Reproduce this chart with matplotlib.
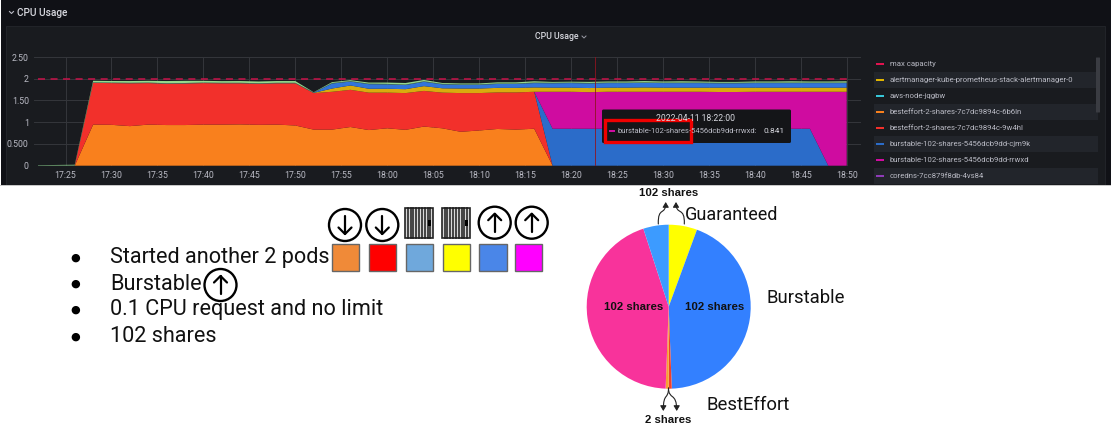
import matplotlib
matplotlib.use("Agg")
import matplotlib.pyplot as plt
import matplotlib.patches as mp
from matplotlib.path import Path

# ---- data ----
minutes = [22, 24, 26, 28, 30, 32, 34, 36, 38, 40, 42, 44, 46, 48, 50,
           52, 54, 56, 58, 60, 62, 64, 66, 68, 70, 72, 74, 76,
           78, 80, 82, 84, 86, 88, 90, 92, 94, 96, 98, 100, 102, 104, 106, 108, 110]
orange = [0, 0, 0, .945, .94, .91, .945, .935, .935, .945, .945, .95, .94, .945, .925,
          .83, .83, .89, .82, .86, .825, .90, .86, .78, .81, .845, .83, .85,
          0, 0, 0, 0, 0, 0, 0, 0, 0, 0, 0, 0, 0, 0, 0, 0, 0]
red = [0, 0, 0, .96, .96, .985, .955, .95, .955, .955, .95, .945, .945, .95, .97,
       .84, .87, .855, .86, .82, .845, .82, .82, .89, .86, .84, .855, .85,
       0, 0, 0, 0, 0, 0, 0, 0, 0, 0, 0, 0, 0, 0, 0, 0, 0]
burst_a = [0, 0, 0, 0, 0, 0, 0, 0, 0, 0, 0, 0, 0, 0, 0,
           0, 0, 0, 0, 0, 0, 0, 0, 0, 0, 0, 0, 0,
           .85, .85, .85, .85, .85, .85, .85, .85, .85, .85, .85, .85, .85, .85, .85, 0, 0]
burst_b = [0, 0, 0, 0, 0, 0, 0, 0, 0, 0, 0, 0, 0, 0, 0,
           0, 0, 0, 0, 0, 0, 0, 0, 0, 0, 0, 0, 0,
           .85, .85, .841, .85, .85, .85, .85, .85, .85, .845, .845, .85, .85, .85, .85, 1.70, 1.70]
alert = [0, 0, 0, 0, 0, 0, 0, 0, 0, 0, 0, 0, 0, 0, 0,
         .005, .075, .10, .09, .09, .09, .11, .10, .105, .105, .105, .105, .10,
         .095, .095, .095, .095, .095, .10, .095, .095, .095, .10, .10, .095, .095, .095, .095, .095, .095]
other = [0, 0, 0, 0, 0, 0, 0, 0, 0, 0, 0, 0, 0, 0, 0,
         .005, .115, .09, .105, .10, .095, .10, .09, .085, .085, .09, .09, .10,
         .10, .105, .105, .105, .105, .105, .105, .105, .105, .10, .10, .105, .105, .105, .105, .105, .105]
aws = [.004, .005, .006, .012, .012, .012, .012, .012, .012, .012, .012, .012, .012, .012, .012,
       .005, .012, .012, .012, .012, .012, .012, .012, .012, .012, .012, .012, .012,
       .012, .012, .012, .012, .012, .012, .012, .012, .012, .012, .012, .012, .012, .012, .012, .012, .012]
green = [.008, .012, .016, .036, .036, .04, .04, .05, .05, .04, .038, .04, .04, .04, .04,
         .005, .02, .02, .025, .03, .035, .03, .02, .02, .02, .025, .025, .03,
         .02, .02, .025, .025, .025, .03, .025, .03, .025, .02, .02, .025, .025, .03, .025, .025, .03]
max_capacity = [2] * len(minutes)

y_ticks = [0, .5, 1, 1.5, 2, 2.5]
y_labels = ["0", "0.500", "1", "1.50", "2", "2.50"]
x_ticks = [25, 30, 35, 40, 45, 50, 55, 60, 65, 70, 75, 80, 85, 90, 95, 100, 105, 110]
x_labels = ["17:25", "17:30", "17:35", "17:40", "17:45", "17:50", "17:55", "18:00", "18:05",
            "18:10", "18:15", "18:20", "18:25", "18:30", "18:35", "18:40", "18:45", "18:50"]
legend_names = ["max capacity", "alertmanager-kube-prometheus-stack-alertmanager-0", "aws-node-jqgbw",
                "besteffort-2-shares-7c7dc9894c-6b6ln", "besteffort-2-shares-7c7dc9894c-9w4hl",
                "burstable-102-shares-5456dcb9dd-cjm9k", "burstable-102-shares-5456dcb9dd-rrwxd",
                "coredns-7cc879f8db-4vs84"]
legend_colors = ["#e0134f", "#e0b400", "#37c6d8", "#f9801d", "#f2302b", "#2b6cc9", "#cf0ca0", "#8f3bb8"]
bullets = ["Started another 2 pods", "Burstable", "0.1 CPU request and no limit", "102 shares"]
swatches = ["#f08a38", "#ff0000", "#6fa8dc", "#ffff00", "#4a86e8", "#ff00ff"]
pie_values = [5.6, 43.8, 0.6, 0.6, 44.4, 5.0]
pie_colors = ["#ffff00", "#3380ff", "#f2402b", "#f7a030", "#f8339b", "#3c9bff"]

# ---- figure ----
W, H = 1111, 430
fig = plt.figure(figsize=(W / 100, H / 100), dpi=100, facecolor="white")
plt.rcParams["font.family"] = ["Roboto", "DejaVu Sans"]

def axes_px(x0, y0, x1, y1, **kw):
    return fig.add_axes([x0 / W, 1 - y1 / H, (x1 - x0) / W, (y1 - y0) / H], **kw)

bg = axes_px(0, 0, W, H, zorder=0)
bg.set_xlim(0, W); bg.set_ylim(H, 0); bg.axis("off")
top = axes_px(0, 0, W, H, zorder=3)
top.set_xlim(0, W); top.set_ylim(H, 0); top.axis("off"); top.patch.set_alpha(0)

TXT = "#b9bac4"
bg.add_patch(mp.Rectangle((1, 0), W, 185, fc="#101116", ec="none"))
bg.add_patch(mp.Rectangle((6, 26), W - 12, 159, fc="#191b1f", ec="#24262b", lw=.6))
bg.add_patch(mp.Rectangle((0, 185), W, 1.2, fc="#c8c8c8", ec="none"))
bg.plot([9.5, 11.5, 13.5], [11.5, 13.5, 11.5], color=TXT, lw=.8)
bg.text(17, 12.5, "CPU Usage", color="#d8d9e0", fontsize=7.3, fontweight="medium", va="center")
bg.text(556.5, 36.5, "CPU Usage", color="#d8d9e0", fontsize=6.3, fontweight="medium", va="center", ha="center")
bg.plot([582, 584, 586], [36, 38, 36], color="#9a9ba5", lw=.7)

# legend rows
for i, (name, col) in enumerate(zip(legend_names, legend_colors)):
    y = 64 + 16 * i
    if i % 2 == 1:
        bg.add_patch(mp.Rectangle((874, y - 8), 223.5, 16, fc="#22252b", ec="none"))
    bg.add_patch(mp.Rectangle((876, y - 1.2), 8, 2.6, fc=col, ec="none"))
    bg.text(890, y, name, color=TXT, fontsize=5.6, va="center", clip_on=True)
bg.add_patch(mp.FancyBboxPatch((1096.5, 58), 3, 54, boxstyle="round,pad=0.5", fc="#3a3c42", ec="none"))

# stacked chart
ax = axes_px(34.3, 57, 861.4, 165.7, zorder=1)
ax.patch.set_alpha(0)
ax.set_xlim(21.6, 111.6); ax.set_ylim(0, 2.5)
ax.stackplot(minutes, orange, red, burst_a, burst_b, alert, other, aws, green,
             colors=["#f9801d", "#f2302b", "#2b6cc9", "#cf0ca0", "#d9ab0e", "#3274d9", "#4f8a7a", "#96d98d"],
             lw=0, zorder=2)
ax.plot(minutes, max_capacity, color="#c9124a", lw=1.1, dashes=(4.6, 3.6), zorder=3)
ax.set_xticks(x_ticks, x_labels); ax.set_yticks(y_ticks, y_labels)
ax.grid(True, color="#34363b", lw=.7, zorder=1)
ax.tick_params(length=0, colors=TXT, labelsize=6.3, pad=4)
for s in ax.spines.values():
    s.set_visible(False)
ax.axvline(82.65, color="#8f1420", lw=.6, zorder=4)
ax.set_axisbelow(True)

# tooltip
top.add_patch(mp.FancyBboxPatch((602, 109.5), 189, 33.5, boxstyle="round,pad=0,rounding_size=1.5",
                                fc="#141518", ec="none"))
top.text(696, 118.5, "2022-04-11 18:22:00", color="#d8d9e0", fontsize=6.2, ha="center", va="center")
top.add_patch(mp.Rectangle((609, 130.2), 6, 1.8, fc="#cf0ca0", ec="none"))
top.text(617, 131, "burstable-102-shares-5456dcb9dd-rrwxd:", color=TXT, fontsize=5.5, va="center")
top.text(785, 131, "0.841", color="#d8d9e0", fontsize=6, va="center", ha="right")
top.add_patch(mp.Rectangle((605.2, 120), 86.2, 22, fc="none", ec="#f00000", lw=2.4))

# bullets
for y, label in zip([258, 284, 310, 337], bullets):
    bg.text(75, y, "\u25cf", fontsize=8, color="black", ha="center", va="center", family="DejaVu Sans")
    bg.text(110, y, label, fontsize=15.6, color="#111111", va="center")

# icons
def arrow_circle(cx, cy, up):
    bg.add_patch(mp.Circle((cx, cy), 16, fc="white", ec="black", lw=1.7))
    d = -1 if up else 1
    bg.plot([cx, cx], [cy - 9 * d, cy + 9 * d], color="black", lw=1.6, solid_capstyle="round")
    bg.plot([cx - 6.5, cx, cx + 6.5], [cy + 2.5 * d, cy + 9 * d, cy + 2.5 * d], color="black", lw=1.6,
            solid_capstyle="round", solid_joinstyle="round")

def door(x0, y0, x1, y1):
    bg.add_patch(mp.Rectangle((x0, y0), x1 - x0, y1 - y0, fc="#d8d8d8", ec="#222222", lw=1.2))
    n = 10
    for i in range(1, n):
        x = x0 + (x1 - x0) * i / n
        bg.plot([x, x], [y0, y1], color="#1c1c1c", lw=1.1)
    bg.add_patch(mp.Rectangle((x1 - 5, (y0 + y1) / 2 - 3), 3, 6, fc="black", ec="none", zorder=4))

arrow_circle(345, 225, False)
arrow_circle(382.3, 225, False)
door(405, 208, 433.3, 237.5)
door(441.7, 208, 470, 237.5)
arrow_circle(494.7, 222.7, True)
arrow_circle(531.7, 222.7, True)
arrow_circle(220.5, 285, True)
for (x0, x1), col in zip([(331.7, 359), (368.7, 396), (405.7, 433.3), (442.7, 470), (479.3, 506.7), (514.7, 542)], swatches):
    bg.add_patch(mp.Rectangle((x0, 244), x1 - x0, 27, fc=col, ec="#666666", lw=1))

# pie
cx, cy, r = 668.7, 306.7, 82
pa = axes_px(cx - r, cy - r, cx + r, cy + r, zorder=1)
pa.pie(pie_values, colors=pie_colors, startangle=90, counterclock=False, radius=1,
       wedgeprops=dict(lw=0))
pa.set_xlim(-1, 1); pa.set_ylim(-1, 1); pa.set_aspect("equal")

for x, y in [(633.5, 307), (714.5, 307), (669, 193.5), (668.5, 420)]:
    top.text(x, y, "102 shares" if y < 400 else "2 shares", fontsize=8.2, fontweight="bold",
             family="Liberation Sans", ha="center", va="center", color="#111111")
top.text(685, 215, "Guaranteed", fontsize=13, va="center", color="#111111")
top.text(767, 298, "Burstable", fontsize=13.3, va="center", color="#111111")
top.text(707, 404.5, "BestEffort", fontsize=13.3, va="center", color="#111111")

def curve(pts):
    codes = [Path.MOVETO, Path.CURVE4, Path.CURVE4, Path.CURVE4]
    top.add_patch(mp.FancyArrowPatch(path=Path(pts, codes), arrowstyle="-|>,head_length=3,head_width=1.8",
                                     lw=.8, color="#222222", shrinkA=0, shrinkB=0))

curve([(658.3, 224), (657.8, 206), (665.7, 216), (665.7, 202)])
curve([(684.3, 224), (685, 206), (676, 216), (676, 202)])
curve([(668.5, 388), (668.5, 400), (663.3, 392), (663.3, 411)])
curve([(668.5, 388), (668.5, 400), (676.7, 392), (676.7, 411)])

fig.savefig("out.png", dpi=100, facecolor="white")
